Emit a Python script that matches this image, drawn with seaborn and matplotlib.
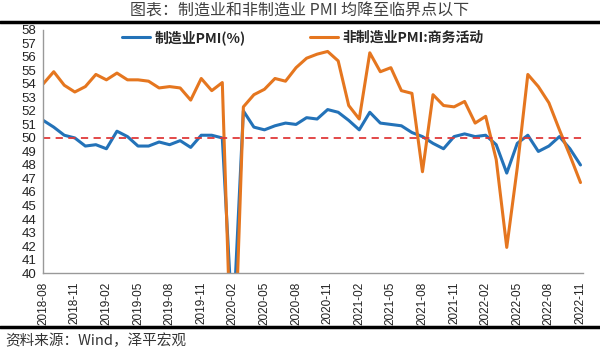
import matplotlib
matplotlib.use("Agg")
import matplotlib.pyplot as plt
import pandas as pd
import seaborn as sns

months = pd.period_range("2018-08", "2022-11", freq="M").strftime("%Y-%m").tolist()

mfg_pmi = [51.3, 50.8, 50.2, 50.0, 49.4,
           49.5, 49.2, 50.5, 50.1, 49.4, 49.4, 49.7, 49.5, 49.8, 49.3, 50.2, 50.2,
           50.0, 35.7, 52.0, 50.8, 50.6, 50.9, 51.1, 51.0, 51.5, 51.4, 52.1, 51.9,
           51.3, 50.6, 51.9, 51.1, 51.0, 50.9, 50.4, 50.1, 49.6, 49.2, 50.1, 50.3,
           50.1, 50.2, 49.5, 47.4, 49.6, 50.2, 49.0, 49.4, 50.1, 49.2, 48.0]
non_mfg = [54.0, 54.9, 53.9, 53.4, 53.8,
           54.7, 54.3, 54.8, 54.3, 54.3, 54.2, 53.7, 53.8, 53.7, 52.8, 54.4, 53.5,
           54.1, 29.6, 52.3, 53.2, 53.6, 54.4, 54.2, 55.2, 55.9, 56.2, 56.4, 55.7,
           52.4, 51.4, 56.3, 54.9, 55.2, 53.5, 53.3, 47.5, 53.2, 52.4, 52.3, 52.7,
           51.1, 51.6, 48.4, 41.9, 47.8, 54.7, 53.8, 52.6, 50.6, 48.7, 46.7]
names = ["制造业PMI(%)", "非制造业PMI:商务活动"]

df = pd.DataFrame({"x": range(len(months)), names[0]: mfg_pmi, names[1]: non_mfg})
long = df.melt(id_vars="x", var_name="series", value_name="value")

sns.set_style("white")
plt.rcParams["font.family"] = ["Noto Sans CJK SC", "DejaVu Sans"]

fig = plt.figure(figsize=(6, 3.51), dpi=100)
ax = fig.add_axes([0.072, 0.222, 0.899, 0.693])

sns.lineplot(data=long, x="x", y="value", hue="series",
             palette=["#2372B8", "#E5761F"], linewidth=2.2, ax=ax, legend=False)
ax.axhline(50, color="#E03A3A", linestyle=(0, (4, 3)), linewidth=1.3)

ax.set_xlim(0, len(months) - 1 + 0.2)
ax.set_ylim(40, 58)
ax.set_yticks(range(40, 59))
ax.set_xticks(range(0, len(months), 3))
ax.set_xticklabels(months[::3], rotation=90, fontsize=8.5, family="Liberation Sans")
for t in ax.get_yticklabels():
    t.set_fontsize(9.5)
    t.set_family("Liberation Sans")
ax.set_xlabel("")
ax.set_ylabel("")
for s in ["top", "right"]:
    ax.spines[s].set_visible(False)
for s in ["left", "bottom"]:
    ax.spines[s].set_color("#999999")
    ax.spines[s].set_linewidth(1)
ax.tick_params(axis="both", direction="out", length=4, width=1, color="#999999",
               pad=2, labelcolor="#222222")
ax.tick_params(axis="y", pad=1)

handles = [plt.Line2D([], [], color="#2372B8", lw=2.2),
           plt.Line2D([], [], color="#E5761F", lw=2.2)]
fig.legend(handles, names, loc="center left", bbox_to_anchor=(0.183, 0.893),
           ncol=2, frameon=False, handlelength=2.0, handletextpad=0.35,
           columnspacing=4.6, prop={"size": 10, "weight": "bold"})

fig.text(0.5, 0.968, "图表：制造业和非制造业 PMI 均降至临界点以下", ha="center", va="center",
         fontsize=11.5, color="#404040")
fig.add_artist(plt.Line2D([0, 1], [0.937, 0.937], color="black", lw=2.5))
fig.add_artist(plt.Line2D([0, 1], [0.068, 0.068], color="black", lw=2.5))
fig.text(0.008, 0.03, "资料来源：Wind，泽平宏观", ha="left", va="center",
         fontsize=10.5, color="#333333", style="italic")

fig.savefig("out.png", dpi=100)
